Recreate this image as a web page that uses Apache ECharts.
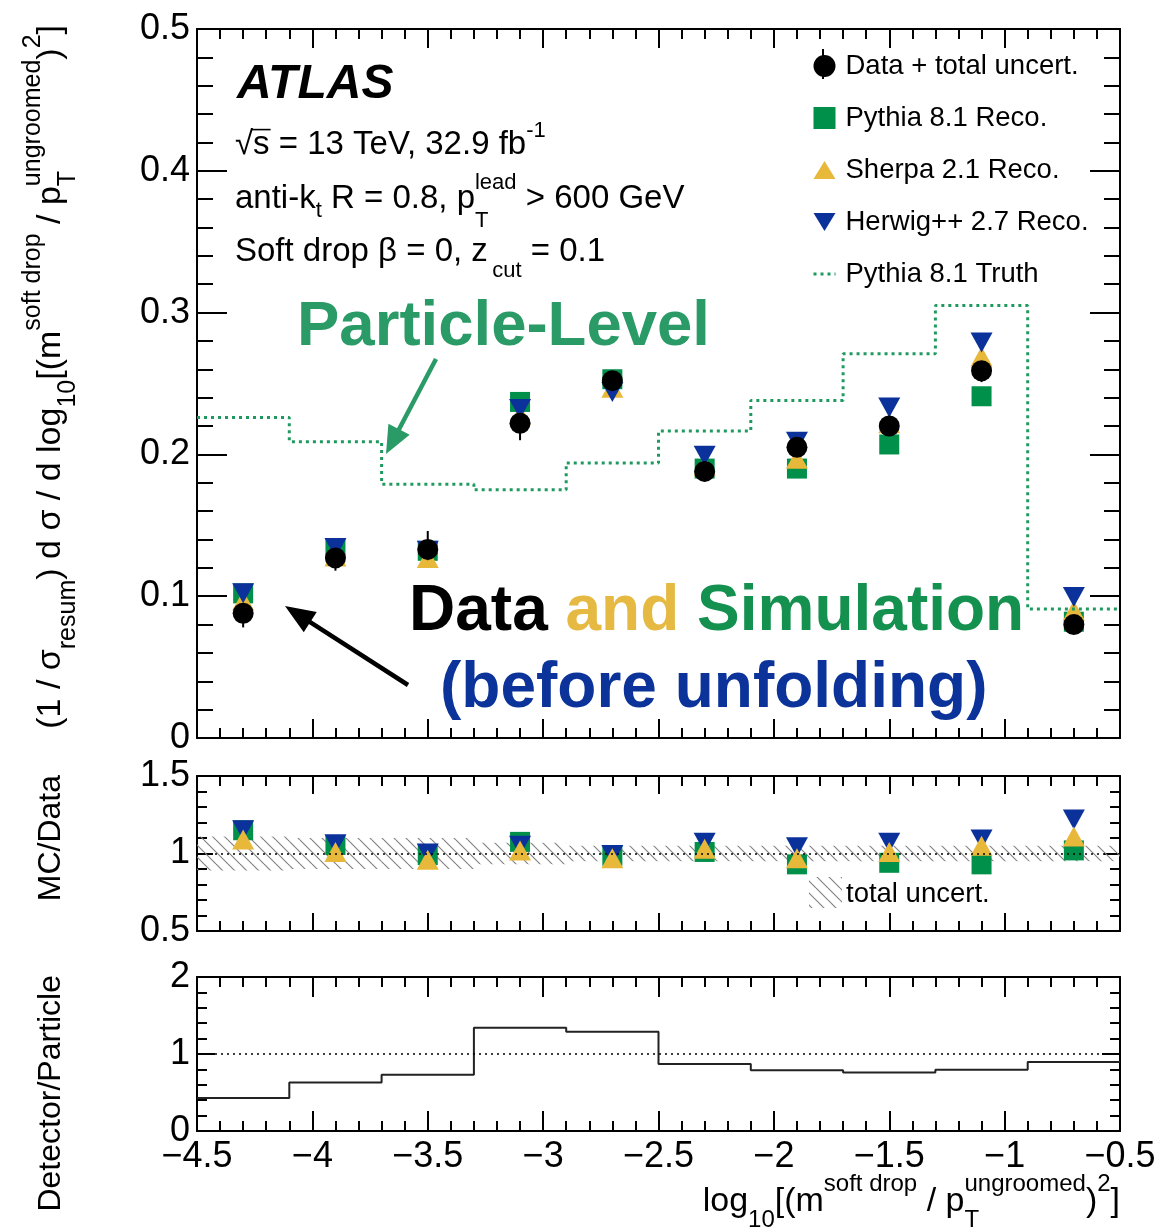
<!DOCTYPE html>
<html>
<head>
<meta charset="utf-8">
<script src="https://cdn.jsdelivr.net/npm/echarts@6/dist/echarts.min.js"></script>
<style>
html, body { margin: 0; padding: 0; background: #fff; }
#chart { width: 1165px; height: 1232px; }
</style>
</head>
<body>
<div id="chart"></div>
<script>
// bins in log10[(m/pT)^2]
const binEdges = [-4.5, -4.1, -3.7, -3.3, -2.9, -2.5, -2.1, -1.7, -1.3, -0.9, -0.5];
const binCenters = [-4.3, -3.9, -3.5, -3.1, -2.7, -2.3, -1.9, -1.5, -1.1, -0.7];

// top panel: normalised cross-section
const dataVal = [0.088, 0.127, 0.133, 0.222, 0.252, 0.188, 0.205, 0.220, 0.259, 0.080];
const dataErr = [0.010, 0.009, 0.013, 0.012, 0.006, 0.006, 0.009, 0.009, 0.008, 0.005];
const pythiaReco = [0.102, 0.134, 0.132, 0.237, 0.253, 0.190, 0.190, 0.207, 0.241, 0.082];
const sherpaReco = [0.097, 0.128, 0.127, 0.228, 0.247, 0.192, 0.197, 0.222, 0.269, 0.090];
const herwigReco = [0.102, 0.134, 0.132, 0.232, 0.244, 0.199, 0.209, 0.233, 0.279, 0.0995];
const pythiaTruth = [0.226, 0.209, 0.179, 0.175, 0.194, 0.2165, 0.238, 0.271, 0.305, 0.091];

// middle panel: MC / Data
const ratioPythia = [1.15, 1.055, 0.99, 1.075, 0.985, 1.01, 0.93, 0.94, 0.93, 1.02];
const ratioSherpa = [1.09, 1.01, 0.96, 1.02, 0.97, 1.03, 0.97, 1.01, 1.05, 1.11];
const ratioHerwig = [1.15, 1.06, 1.00, 1.05, 0.99, 1.07, 1.04, 1.07, 1.09, 1.22];
const totalUnc = [0.11, 0.10, 0.10, 0.07, 0.05, 0.05, 0.05, 0.05, 0.05, 0.05];

// bottom panel: detector / particle
const detOverPart = [0.43, 0.63, 0.73, 1.34, 1.29, 0.87, 0.79, 0.76, 0.795, 0.895];

const FONT = '"Liberation Sans", Arial, Helvetica, sans-serif';
const GREEN = '#00904a', YELLOW = '#e8b83a', BLUE = '#0b319b', TRUTH = '#1f9a5f';

// hatch pattern for the uncertainty band
function hatchCanvas() {
  const s = 12, c = document.createElement('canvas');
  c.width = s; c.height = s;
  const g = c.getContext('2d');
  g.strokeStyle = '#858585'; g.lineWidth = 1.2;
  for (let k = -1; k <= 1; k++) {
    g.beginPath(); g.moveTo(0, k * s); g.lineTo(s, s + k * s); g.stroke();
  }
  return c;
}
const hatch = { image: hatchCanvas(), repeat: 'repeat' };

// text with sub/superscripts, laid out piece by piece
const mctx = document.createElement('canvas').getContext('2d');
function textW(t, size, fw, fs) {
  mctx.font = fs + ' ' + fw + ' ' + size + 'px ' + FONT;
  return mctx.measureText(t).width;
}
function mathText(parts, x, y, rot, anchor) {
  let cx = 0, prevX = 0;
  const kids = [];
  parts.forEach(p => {
    const fw = p.b ? 'bold' : 'normal', fs = p.i ? 'italic' : 'normal';
    const w = textW(p.t, p.s, fw, fs);
    const px = p.stack ? prevX : cx;
    const base = p.dy || 0;
    kids.push({ type: 'text', x: px, y: base - 0.35 * p.s,
      style: { text: p.t, fontSize: p.s, fontFamily: FONT, fontWeight: fw, fontStyle: fs,
               fill: p.c || '#000', align: 'left', verticalAlign: 'middle' } });
    if (p.over) {
      kids.push({ type: 'line', shape: { x1: px - 2, y1: base - 0.8 * p.s, x2: px + w + 1, y2: base - 0.8 * p.s },
        style: { stroke: p.c || '#000', lineWidth: 1.6 } });
    }
    prevX = px;
    cx = Math.max(cx, px + w);
  });
  let shift = 0;
  if (anchor === 'end') shift = -cx;
  if (anchor === 'middle') shift = -cx / 2;
  kids.forEach(k => {
    if (k.type === 'text') k.x += shift;
    else { k.shape.x1 += shift; k.shape.x2 += shift; }
  });
  return { type: 'group', x: x, y: y, rotation: rot || 0, silent: true, children: kids };
}

function arrow(x1, y1, x2, y2, color, lw, hl, hw) {
  const len = Math.hypot(x2 - x1, y2 - y1);
  const ux = (x2 - x1) / len, uy = (y2 - y1) / len;
  const bx = x2 - ux * hl, by = y2 - uy * hl;
  return [
    { type: 'line', silent: true, shape: { x1: x1, y1: y1, x2: bx + ux * 2, y2: by + uy * 2 },
      style: { stroke: color, lineWidth: lw } },
    { type: 'polygon', silent: true,
      shape: { points: [[x2, y2], [bx - uy * hw, by + ux * hw], [bx + uy * hw, by - ux * hw]] },
      style: { fill: color } }
  ];
}

// axes: each panel gets a labelled axis plus a mirrored one (ticks on all sides)
const panels = [
  { top: 29, height: 709, ymin: 0, ymax: 0.5, yint: 0.1, xMaj: 19, xMin: 10, yMaj: 30, yMin: 16, xLabels: false },
  { top: 776, height: 155, ymin: 0.5, ymax: 1.5, yint: 0.5, xMaj: 18, xMin: 10, yMaj: 16, yMin: 10, xLabels: false },
  { top: 977, height: 154, ymin: 0, ymax: 2, yint: 1, xMaj: 20, xMin: 10, yMaj: 18, yMin: 10, xLabels: true }
];
const grids = [], xAxes = [], yAxes = [];
panels.forEach((p, i) => {
  grids.push({ left: 197, width: 923, top: p.top, height: p.height, outerBoundsMode: 'none' });
  const line = { show: true, onZero: false, lineStyle: { color: '#000', width: 2 } };
  const xb = {
    type: 'value', gridIndex: i, min: -4.5, max: -0.5, interval: 0.5,
    axisLine: line, splitLine: { show: false },
    axisTick: { show: true, inside: true, length: p.xMaj, lineStyle: { color: '#000', width: 2 } },
    minorTick: { show: true, splitNumber: 5, length: p.xMin, lineStyle: { color: '#000', width: 2 } },
    minorSplitLine: { show: false }
  };
  xAxes.push(Object.assign({}, xb, { position: 'bottom',
    axisLabel: { show: p.xLabels, fontSize: 36, fontFamily: FONT, color: '#000', margin: 8,
      showMinLabel: true, showMaxLabel: true,
      formatter: v => (v < 0 ? '\u2212' + String(-v) : String(v)) } }));
  xAxes.push(Object.assign({}, xb, { position: 'top', axisLabel: { show: false } }));
  const yb = {
    type: 'value', gridIndex: i, min: p.ymin, max: p.ymax, interval: p.yint,
    axisLine: line, splitLine: { show: false },
    axisTick: { show: true, inside: true, length: p.yMaj, lineStyle: { color: '#000', width: 2 } },
    minorTick: { show: true, splitNumber: 5, length: p.yMin, lineStyle: { color: '#000', width: 2 } },
    minorSplitLine: { show: false }
  };
  yAxes.push(Object.assign({}, yb, { position: 'left',
    axisLabel: { show: true, fontSize: 36, fontFamily: FONT, color: '#000', margin: 7,
      showMinLabel: true, showMaxLabel: true } }));
  yAxes.push(Object.assign({}, yb, { position: 'right', axisLabel: { show: false } }));
});

const pairs = vals => binCenters.map((x, i) => [x, vals[i]]);
const dottedOne = {
  silent: true, symbol: ['none', 'none'], label: { show: false },
  lineStyle: { color: '#000', type: [2, 4], width: 1.6 },
  data: [{ yAxis: 1 }]
};

const series = [
  // ---- top panel ----
  { name: 'Pythia 8.1 Truth', type: 'line', xAxisIndex: 0, yAxisIndex: 0, step: 'end',
    symbol: 'none', lineStyle: { color: TRUTH, width: 3, type: [3, 4] }, itemStyle: { color: TRUTH },
    data: binEdges.map((x, i) => [x, pythiaTruth[Math.min(i, pythiaTruth.length - 1)]]) },
  { name: 'Pythia 8.1 Reco.', type: 'scatter', xAxisIndex: 0, yAxisIndex: 0,
    symbol: 'rect', symbolSize: 20, itemStyle: { color: GREEN, opacity: 1 }, data: pairs(pythiaReco) },
  { name: 'Sherpa 2.1 Reco.', type: 'scatter', xAxisIndex: 0, yAxisIndex: 0,
    symbol: 'triangle', symbolSize: [22, 20], itemStyle: { color: YELLOW, opacity: 1 }, data: pairs(sherpaReco) },
  { name: 'Herwig++ 2.7 Reco.', type: 'scatter', xAxisIndex: 0, yAxisIndex: 0,
    symbol: 'triangle', symbolRotate: 180, symbolSize: [22, 20], itemStyle: { color: BLUE, opacity: 1 },
    data: pairs(herwigReco) },
  { name: 'data errors', type: 'custom', xAxisIndex: 0, yAxisIndex: 0,
    encode: { x: 0, y: [1, 2] },
    data: binCenters.map((x, i) => [x, dataVal[i] - dataErr[i], dataVal[i] + dataErr[i]]),
    renderItem: (params, api) => {
      const a = api.coord([api.value(0), api.value(1)]);
      const b = api.coord([api.value(0), api.value(2)]);
      return { type: 'line', shape: { x1: a[0], y1: a[1], x2: b[0], y2: b[1] },
        style: { stroke: '#000', lineWidth: 2 } };
    } },
  { name: 'Data + total uncert.', type: 'scatter', xAxisIndex: 0, yAxisIndex: 0,
    symbol: 'circle', symbolSize: 21, itemStyle: { color: '#000', opacity: 1 }, data: pairs(dataVal) },

  // ---- ratio panel ----
  { name: 'total uncert.', type: 'custom', xAxisIndex: 2, yAxisIndex: 2,
    encode: { x: [0, 1], y: [2, 3] },
    data: binCenters.map((c, i) => [binEdges[i], binEdges[i + 1], 1 + totalUnc[i], 1 - totalUnc[i]]),
    renderItem: (params, api) => {
      const a = api.coord([api.value(0), api.value(2)]);
      const b = api.coord([api.value(1), api.value(3)]);
      return { type: 'rect', shape: { x: a[0], y: a[1], width: b[0] - a[0], height: b[1] - a[1] },
        style: { fill: hatch, stroke: null } };
    } },
  { name: 'ratio pythia', type: 'scatter', xAxisIndex: 2, yAxisIndex: 2,
    symbol: 'rect', symbolSize: 20, itemStyle: { color: GREEN, opacity: 1 }, data: pairs(ratioPythia),
    markLine: dottedOne },
  { name: 'ratio herwig', type: 'scatter', xAxisIndex: 2, yAxisIndex: 2,
    symbol: 'triangle', symbolRotate: 180, symbolSize: [22, 20], itemStyle: { color: BLUE, opacity: 1 },
    data: pairs(ratioHerwig) },
  { name: 'ratio sherpa', type: 'scatter', xAxisIndex: 2, yAxisIndex: 2,
    symbol: 'triangle', symbolSize: [22, 20], itemStyle: { color: YELLOW, opacity: 1 }, data: pairs(ratioSherpa) },

  // ---- detector / particle panel ----
  { name: 'detector over particle', type: 'line', xAxisIndex: 4, yAxisIndex: 4, step: 'end',
    symbol: 'none', lineStyle: { color: '#222', width: 2 },
    data: binEdges.map((x, i) => [x, detOverPart[Math.min(i, detOverPart.length - 1)]]),
    markLine: dottedOne }
];

const S = 34, s = 25;
const graphic = [
  mathText([{ t: 'ATLAS', s: 48, b: true, i: true }], 237, 102),
  mathText([{ t: '\u221a', s: 33 }, { t: 's', s: 33, over: true }, { t: ' = 13 TeV, 32.9 fb', s: 33 },
            { t: '-1', s: 22, dy: -17 }], 235, 156),
  mathText([{ t: 'anti-k', s: 33 }, { t: 't', s: 22, dy: 9 }, { t: ' R = 0.8, p', s: 33 },
            { t: 'T', s: 22, dy: 19 }, { t: 'lead', s: 22, dy: -19, stack: true },
            { t: ' > 600 GeV', s: 33 }], 235, 210),
  mathText([{ t: 'Soft drop \u03b2 = 0, z', s: 33 }, { t: '\u2009cut', s: 22, dy: 16 }, { t: ' = 0.1', s: 33 }], 235, 263),
  mathText([{ t: 'Particle-Level', s: 63.5, b: true, c: '#2a9a66' }], 297, 350),
  mathText([{ t: 'Data ', s: 64, b: true }, { t: 'and ', s: 64, b: true, c: '#e5b942' },
            { t: 'Simulation', s: 64, b: true, c: '#14904f' }], 409, 635),
  mathText([{ t: '(before unfolding)', s: 64, b: true, c: '#0b3399' }], 440, 712),
  // y-axis titles
  mathText([{ t: '(1 / \u03c3', s: S }, { t: 'resum', s: s, dy: 14 }, { t: ') d \u03c3 / d log', s: S },
            { t: '10', s: s, dy: 14 }, { t: '[(m', s: S }, { t: 'soft drop', s: s, dy: -21 },
            { t: ' / p', s: S }, { t: 'T', s: s, dy: 14 }, { t: 'ungroomed', s: s, dy: -21, stack: true },
            { t: ')', s: S }, { t: '2', s: s, dy: -21 }, { t: ']', s: S }], 63, 25, Math.PI / 2, 'end'),
  mathText([{ t: 'MC/Data', s: 32 }], 62, 775, Math.PI / 2, 'end'),
  mathText([{ t: 'Detector/Particle', s: 32 }], 62, 975, Math.PI / 2, 'end'),
  // x-axis title
  mathText([{ t: 'log', s: 34 }, { t: '10', s: 24, dy: 15 }, { t: '[(m', s: 34 },
            { t: 'soft drop', s: 24, dy: -21 }, { t: ' / p', s: 34 }, { t: 'T', s: 24, dy: 15 },
            { t: 'ungroomed', s: 24, dy: -21, stack: true }, { t: ')', s: 34 },
            { t: '2', s: 24, dy: -21 }, { t: ']', s: 34 }], 1120, 1214, 0, 'end'),
  // error bar on the data legend marker
  { type: 'line', silent: true, z: 100, shape: { x1: 823, y1: 49, x2: 823, y2: 79 },
    style: { stroke: '#000', lineWidth: 2 } },
  // ratio legend entry
  { type: 'rect', silent: true, shape: { x: 809, y: 877, width: 33, height: 31 }, style: { fill: hatch } },
  mathText([{ t: 'total uncert.', s: 27.5 }], 846, 904)
].concat(arrow(436, 359, 386, 454, '#2a9a66', 4.5, 28, 12))
 .concat(arrow(408, 685, 285, 606, '#000', 4.5, 30, 12));

const chart = echarts.init(document.getElementById('chart'));
chart.setOption({
  backgroundColor: '#fff',
  animation: false,
  grid: grids,
  xAxis: xAxes,
  yAxis: yAxes,
  legend: {
    orient: 'vertical', left: 812, top: 52, padding: 0, itemWidth: 22, itemHeight: 22, itemGap: 24,
    selectedMode: false,
    textStyle: { fontSize: 27.5, fontFamily: FONT, color: '#000', padding: [0, 0, 0, 5] },
    data: [
      { name: 'Data + total uncert.', icon: 'circle' },
      { name: 'Pythia 8.1 Reco.' },
      { name: 'Sherpa 2.1 Reco.', icon: 'path://M11,0L22,18L0,18Z' },
      { name: 'Herwig++ 2.7 Reco.', icon: 'path://M0,0L22,0L11,18Z' },
      { name: 'Pythia 8.1 Truth', itemStyle: { opacity: 0 },
        lineStyle: { color: TRUTH, width: 3, type: [3, 4] } }
    ]
  },
  series: series,
  graphic: graphic
});
</script>
</body>
</html>
